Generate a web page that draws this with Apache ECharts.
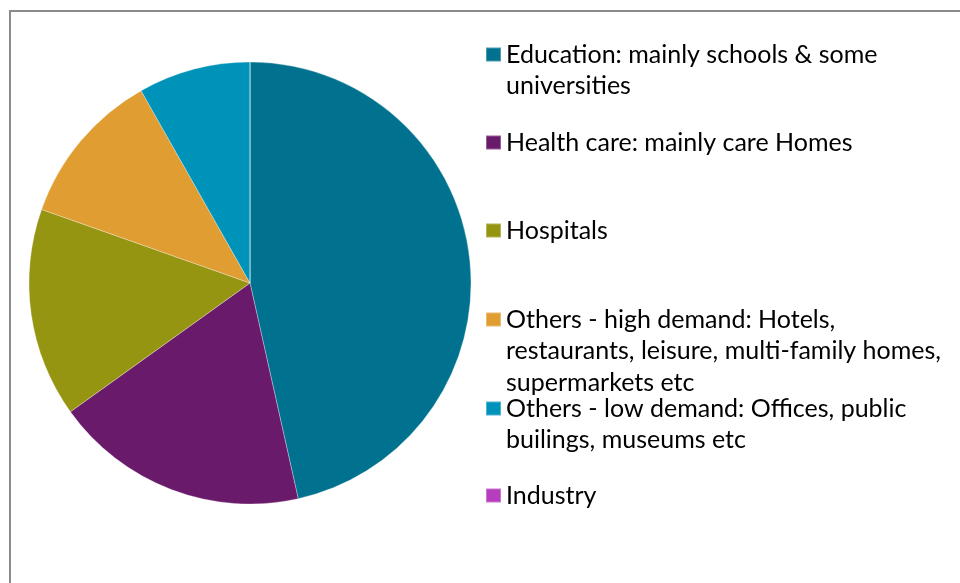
<!DOCTYPE html>
<html>
<head>
<meta charset="utf-8">
<script src="https://cdn.jsdelivr.net/npm/echarts@6/dist/echarts.min.js"></script>
<style>
  html, body { margin: 0; padding: 0; background: #ffffff; }
  #chart { width: 960px; height: 583px; }
</style>
</head>
<body>
<div id="chart"></div>
<script>
// Building types and their share (%)
const categories = [
  'Education: mainly schools & some universities',
  'Health care: mainly care Homes',
  'Hospitals',
  'Others - high demand: Hotels, restaurants, leisure, multi-family homes, supermarkets etc',
  'Others - low demand: Offices, public builings, museums etc',
  'Industry'
];
const shares = [46.5, 18.6, 15.3, 11.4, 8.2, 0];

// Legend text, broken into the lines it is shown on
const legendLines = [
  ['Education: mainly schools & some', 'universities'],
  ['Health care: mainly care Homes'],
  ['Hospitals'],
  ['Others - high demand: Hotels,', 'restaurants, leisure, multi-family homes,', 'supermarkets etc'],
  ['Others - low demand: Offices, public', 'builings, museums etc'],
  ['Industry']
];

const colors = ['#00728F', '#6A1A6B', '#969512', '#E09D32', '#0093BA', '#B63DBB'];

// Layout of the legend column
const legendLeft = 485;
const iconTops = [47.5, 135.5, 223.5, 312.5, 401.5, 488.5];
const lineH = 31.5;
const iconW = 15, iconH = 14;
const fontSize = 25;

const chart = echarts.init(document.getElementById('chart'), null, { renderer: 'canvas' });

// One legend block per entry so each can sit at its own height. Legend text is
// centred on its icon, so empty lines are put in front to keep the icon level
// with the first line of text.
const legends = categories.map((name, i) => {
  const n = legendLines[i].length;
  const blank = new Array(n - 1).fill('');
  const blockH = (2 * n - 1) * lineH;
  const offset = iconH / 2 - blockH / 2;
  return {
    left: legendLeft,
    top: iconTops[i] + offset,
    orient: 'vertical',
    padding: 0,
    itemWidth: iconW,
    itemHeight: iconH,
    itemGap: 0,
    icon: 'rect',
    selectedMode: false,
    data: [name],
    formatter: () => blank.concat(legendLines[i]).join('\n'),
    textStyle: {
      fontFamily: 'Lato',
      fontSize: fontSize,
      lineHeight: lineH,
      color: '#000000'
    }
  };
});

chart.setOption({
  backgroundColor: '#ffffff',
  animation: false,
  color: colors,
  legend: legends,
  graphic: [{
    type: 'rect',
    shape: { x: 10, y: 11, width: 1200, height: 1000 },
    style: { fill: 'none', stroke: '#8a8a8a', lineWidth: 2 },
    silent: true,
    z: 0
  }],
  series: [{
    type: 'pie',
    center: [250, 283],
    radius: [0, 221],
    startAngle: 90,
    clockwise: true,
    label: { show: false },
    labelLine: { show: false },
    emphasis: { disabled: true },
    itemStyle: { borderColor: 'rgba(255,255,255,0.3)', borderWidth: 1 },
    data: categories.map((name, i) => ({ name: name, value: shares[i] }))
  }]
});
</script>
</body>
</html>
